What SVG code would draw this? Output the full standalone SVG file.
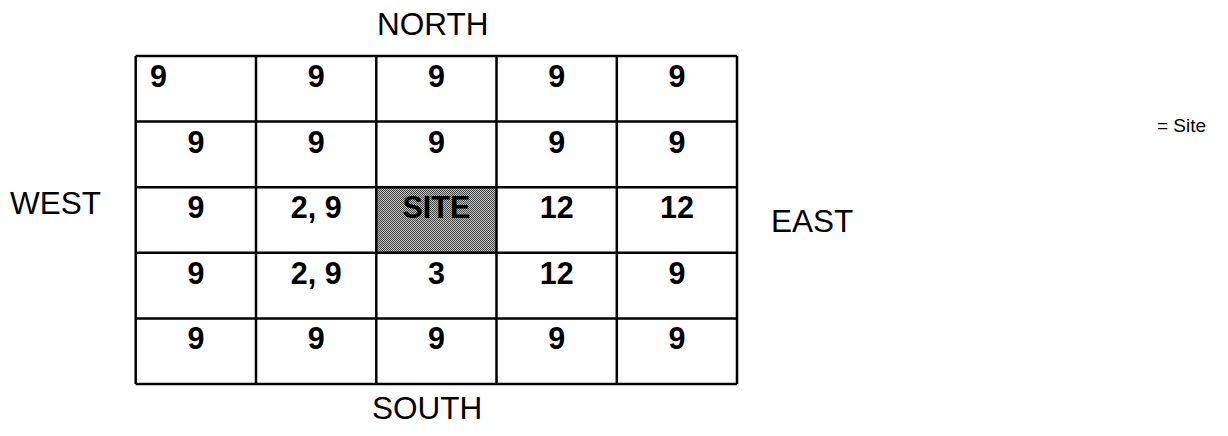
<svg xmlns="http://www.w3.org/2000/svg" width="1228" height="436" viewBox="0 0 1228 436">
<style>
.num{font-family:"Liberation Sans",Arial,sans-serif;font-weight:bold;font-size:30.5px;text-anchor:middle;fill:#000}
.lbl{font-family:"Liberation Sans",Arial,sans-serif;font-size:31.5px;fill:#000}
.grid line{stroke:#000;stroke-width:2.5}
</style>
<defs>
<pattern id="dots" width="2" height="2" patternUnits="userSpaceOnUse">
<rect width="2" height="2" fill="#c8c8c8"/>
<rect width="1" height="1" fill="#404040"/>
<rect x="1" y="1" width="1" height="1" fill="#404040"/>
</pattern>
</defs>
<rect width="1228" height="436" fill="#fff"/>
<g id="site-cell">
<rect x="376.3" y="187.2" width="120.2" height="65.6" fill="url(#dots)"/>
</g>
<g id="grid" class="grid">
<line x1="135.7" y1="56" x2="737" y2="56"/>
<line x1="135.7" y1="121.6" x2="737" y2="121.6"/>
<line x1="135.7" y1="187.2" x2="737" y2="187.2"/>
<line x1="135.7" y1="252.8" x2="737" y2="252.8"/>
<line x1="135.7" y1="318.4" x2="737" y2="318.4"/>
<line x1="135.7" y1="384" x2="737" y2="384"/>
<line x1="135.7" y1="56" x2="135.7" y2="384"/>
<line x1="256" y1="56" x2="256" y2="384"/>
<line x1="376.3" y1="56" x2="376.3" y2="384"/>
<line x1="496.5" y1="56" x2="496.5" y2="384"/>
<line x1="616.8" y1="56" x2="616.8" y2="384"/>
<line x1="737" y1="56" x2="737" y2="384"/>
</g>
<g id="cells">
<text class="num" x="150" y="87" style="text-anchor:start">9</text>
<text class="num" x="316.2" y="87">9</text>
<text class="num" x="436.4" y="87">9</text>
<text class="num" x="556.7" y="87">9</text>
<text class="num" x="676.9" y="87">9</text>
<text class="num" x="195.9" y="152.6">9</text>
<text class="num" x="316.2" y="152.6">9</text>
<text class="num" x="436.4" y="152.6">9</text>
<text class="num" x="556.7" y="152.6">9</text>
<text class="num" x="676.9" y="152.6">9</text>
<text class="num" x="195.9" y="218.2">9</text>
<text class="num" x="316.2" y="218.2">2, 9</text>
<text class="num" x="436.4" y="218.2">SITE</text>
<text class="num" x="556.7" y="218.2">12</text>
<text class="num" x="676.9" y="218.2">12</text>
<text class="num" x="195.9" y="283.8">9</text>
<text class="num" x="316.2" y="283.8">2, 9</text>
<text class="num" x="436.4" y="283.8">3</text>
<text class="num" x="556.7" y="283.8">12</text>
<text class="num" x="676.9" y="283.8">9</text>
<text class="num" x="195.9" y="349.4">9</text>
<text class="num" x="316.2" y="349.4">9</text>
<text class="num" x="436.4" y="349.4">9</text>
<text class="num" x="556.7" y="349.4">9</text>
<text class="num" x="676.9" y="349.4">9</text>
</g>
<g id="labels">
<text class="lbl" x="377" y="35">NORTH</text>
<text class="lbl" x="10" y="214">WEST</text>
<text class="lbl" x="771" y="232">EAST</text>
<text class="lbl" x="372" y="419">SOUTH</text>
<text class="lbl" x="1157" y="132" style="font-size:19px">= Site</text>
</g>
</svg>
